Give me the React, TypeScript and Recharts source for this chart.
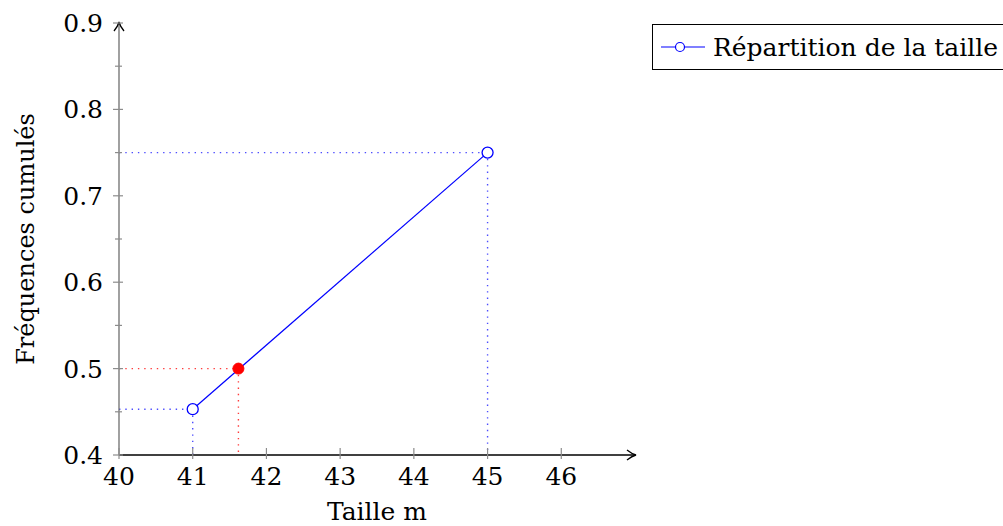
import React from "react";
import {
  LineChart,
  Line,
  XAxis,
  YAxis,
  ReferenceLine,
  ReferenceDot,
  Legend
} from "recharts";

// données
const tailles = [41, 45];
const frequences = [0.453, 0.75];
const medianeTaille = 41.62;
const medianeFreq = 0.5;

const xTicks = [40, 41, 42, 43, 44, 45, 46];
const yMajorTicks = [0.4, 0.5, 0.6, 0.7, 0.8, 0.9];
const yMinorTicks = [0.45, 0.55, 0.65, 0.75, 0.85];

const xDomain = [40, 47];
const yDomain = [0.4, 0.9];

const FONT = "'DejaVu Serif', serif";
const FS = 25;
const BLUE = "#0000ff";
const DOT_BLUE = "#4d4dff";
const DOT_RED = "#ff3b3b";

const data = tailles.map((t, i) => ({ taille: t, freq: frequences[i] }));

const XTick = (props: any) => {
  const { x, y, payload } = props;
  return (
    <g>
      <line x1={x} x2={x} y1={y - 7} y2={y + 4} stroke="#8c8c8c" strokeWidth={1.2} />
      <text x={x} y={y + 30} textAnchor="middle" fontFamily={FONT} fontSize={FS} fill="#000">
        {payload.value}
      </text>
    </g>
  );
};

const YTick = (props: any) => {
  const { x, y, payload } = props;
  const major = yMajorTicks.some((v) => Math.abs(v - payload.value) < 1e-6);
  return (
    <g>
      <line
        x1={major ? x - 6 : x - 4}
        x2={major ? x + 4 : x + 3}
        y1={y}
        y2={y}
        stroke="#8c8c8c"
        strokeWidth={1.2}
      />
      {major && (
        <text x={x - 16} y={y + 9} textAnchor="end" fontFamily={FONT} fontSize={FS} fill="#000">
          {payload.value.toFixed(1)}
        </text>
      )}
    </g>
  );
};

const ArrowRight = (props: any) => {
  const { cx, cy } = props;
  return (
    <path
      d={`M${cx - 8} ${cy - 5} Q${cx - 3} ${cy - 1} ${cx + 1} ${cy} Q${cx - 3} ${cy + 1} ${cx - 8} ${cy + 5}`}
      fill="none"
      stroke="#000"
      strokeWidth={1.3}
    />
  );
};

const ArrowUp = (props: any) => {
  const { cx, cy } = props;
  return (
    <path
      d={`M${cx - 5} ${cy + 8} Q${cx - 1} ${cy + 3} ${cx} ${cy - 1} Q${cx + 1} ${cy + 3} ${cx + 5} ${cy + 8}`}
      fill="none"
      stroke="#000"
      strokeWidth={1.3}
    />
  );
};

const LegendBox = () => (
  <div
    style={{
      boxSizing: "border-box",
      width: 370,
      height: 46,
      border: "1px solid #000",
      background: "#fff",
      display: "flex",
      alignItems: "center",
      paddingLeft: 8
    }}
  >
    <svg width={46} height={14} style={{ display: "block" }}>
      <line x1={0} x2={44} y1={7} y2={7} stroke={BLUE} strokeWidth={1.2} />
      <circle cx={19} cy={7} r={4.5} fill="#fff" stroke={BLUE} strokeWidth={1.2} />
    </svg>
    <span
      style={{
        marginLeft: 6,
        fontFamily: FONT,
        fontSize: FS,
        lineHeight: 1,
        color: "#000",
        whiteSpace: "nowrap"
      }}
    >
      Répartition de la taille
    </span>
  </div>
);

export default function App() {
  return (
    <div
      style={{
        position: "absolute",
        left: 0,
        top: 0,
        width: 1003,
        height: 526,
        overflow: "hidden",
        background: "#fff"
      }}
    >
      <LineChart
        width={1003}
        height={526}
        data={data}
        margin={{ top: 23, right: 368, left: 0, bottom: 0 }}
      >
        <XAxis
          dataKey="taille"
          type="number"
          domain={xDomain}
          ticks={xTicks}
          height={71}
          tickSize={0}
          tickMargin={0}
          tickLine={false}
          tick={<XTick />}
          axisLine={{ stroke: "#000", strokeWidth: 1.3 }}
          allowDataOverflow
          label={{
            content: () => (
              <text x={377} y={520} textAnchor="middle" fontFamily={FONT} fontSize={FS} fill="#000">
                Taille m
              </text>
            )
          }}
        />
        <YAxis
          type="number"
          domain={yDomain}
          ticks={[...yMajorTicks, ...yMinorTicks].sort((a, b) => a - b)}
          width={119}
          tickSize={0}
          tickMargin={0}
          tickLine={false}
          tick={<YTick />}
          axisLine={{ stroke: "#6e6e6e", strokeWidth: 1.3 }}
          allowDataOverflow
          label={{
            content: () => (
              <text
                x={34}
                y={239}
                textAnchor="middle"
                fontFamily={FONT}
                fontSize={24}
                fill="#000"
                transform="rotate(-90, 34, 239)"
              >
                Fréquences cumulés
              </text>
            )
          }}
        />

        {tailles.map((t, i) => (
          <ReferenceLine
            key={`h${i}`}
            segment={[{ x: xDomain[0], y: frequences[i] }, { x: t, y: frequences[i] }]}
            stroke={DOT_BLUE}
            strokeWidth={1.4}
            strokeDasharray="1.4 4.9"
          />
        ))}
        {tailles.map((t, i) => (
          <ReferenceLine
            key={`v${i}`}
            segment={[{ x: t, y: frequences[i] }, { x: t, y: yDomain[0] }]}
            stroke={DOT_BLUE}
            strokeWidth={1.4}
            strokeDasharray="1.4 4.9"
          />
        ))}
        <ReferenceLine
          segment={[{ x: xDomain[0], y: medianeFreq }, { x: medianeTaille, y: medianeFreq }]}
          stroke={DOT_RED}
          strokeWidth={1.4}
          strokeDasharray="1.4 4.9"
        />
        <ReferenceLine
          segment={[{ x: medianeTaille, y: medianeFreq }, { x: medianeTaille, y: yDomain[0] }]}
          stroke={DOT_RED}
          strokeWidth={1.4}
          strokeDasharray="1.4 4.9"
        />

        <Line
          dataKey="freq"
          name="Répartition de la taille"
          type="linear"
          stroke={BLUE}
          strokeWidth={1.2}
          dot={{ r: 5.5, fill: "#fff", stroke: BLUE, strokeWidth: 1.3 }}
          activeDot={false}
          isAnimationActive={false}
        />

        <ReferenceDot x={medianeTaille} y={medianeFreq} r={5.5} fill="#ff0000" stroke="#ff0000" />
        <ReferenceDot x={xDomain[1]} y={yDomain[0]} shape={<ArrowRight />} />
        <ReferenceDot x={xDomain[0]} y={yDomain[1]} shape={<ArrowUp />} />

        <Legend
          layout="vertical"
          align="center"
          verticalAlign="middle"
          content={<LegendBox />}
          wrapperStyle={{ left: 652, top: 24, width: "auto", height: "auto" }}
        />
      </LineChart>
    </div>
  );
}
